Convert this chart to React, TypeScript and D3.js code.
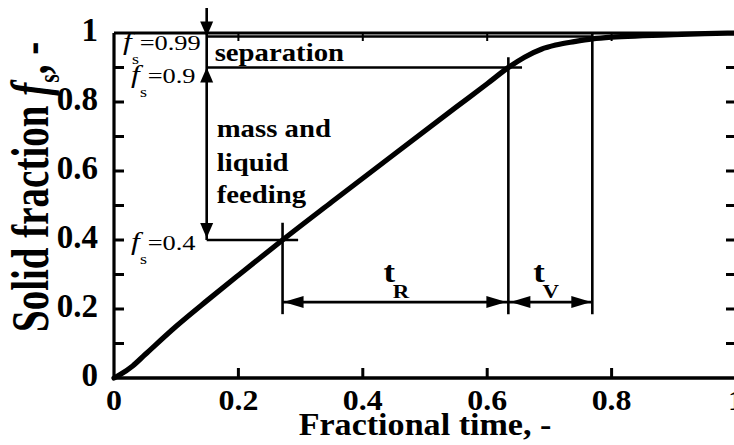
import React from "react";
import * as d3 from "d3";

// Solidification curve: fractional time vs solid fraction
const timeFrac = [0, 0.01, 0.03, 0.05, 0.1, 0.15, 0.2, 0.271, 0.35, 0.45, 0.55, 0.6, 0.634, 0.66, 0.687, 0.71, 0.74, 0.769, 0.8, 0.85, 0.9, 0.95, 1.0];
const solidFrac = [0, 0.01, 0.035, 0.068, 0.15, 0.225, 0.298, 0.4, 0.51, 0.648, 0.785, 0.853, 0.9, 0.93, 0.953, 0.965, 0.975, 0.983, 0.988, 0.992, 0.995, 0.998, 1.0];

// Characteristic solid fractions and the times they are reached
const markFs = [0.4, 0.9, 0.99];
const markT = [0.271, 0.634, 0.769];
const markLabels = ["0.4", "0.9", "0.99"];

const xTicks = [0, 0.2, 0.4, 0.6, 0.8, 1];
const xTickLabels = ["0", "0.2", "0.4", "0.6", "0.8", "1"];
const yTicks = [0, 0.2, 0.4, 0.6, 0.8, 1];
const yTickLabels = ["0", "0.2", "0.4", "0.6", "0.8", "1"];
const yMinorTicks = [0.1, 0.2, 0.3, 0.4, 0.5, 0.6, 0.7, 0.8, 0.9];

const W = 734;
const H = 445;
const FONT = "'Liberation Serif', 'Times New Roman', serif";

const x = d3.scaleLinear().domain([0, 1]).range([114, 736]);
const y = d3.scaleLinear().domain([0, 1]).range([378, 33]);

// Stage-marker geometry in data units
const arrowT = 0.149; // vertical annotation column
const hLineEnd = [0.296, 0.656, 0.769];
const vLineTop = [0.45, 0.93, 1.0];
const vLineBottom = 0.185;
const spanFs = 0.22; // level of the t_R / t_V arrows

function Stretch({ x: tx, y: ty, sx = 1.15, children }: { x: number; y: number; sx?: number; children: React.ReactNode }) {
  return <g transform={`translate(${tx},${ty}) scale(${sx},1)`}>{children}</g>;
}

function Head({ x0, y0, dir, len = 17, half = 6.5 }: { x0: number; y0: number; dir: "up" | "down" | "left" | "right"; len?: number; half?: number }) {
  let pts: [number, number][];
  if (dir === "down") pts = [[x0, y0], [x0 - half, y0 - len], [x0 + half, y0 - len]];
  else if (dir === "up") pts = [[x0, y0], [x0 - half, y0 + len], [x0 + half, y0 + len]];
  else if (dir === "left") pts = [[x0, y0], [x0 + len, y0 - half], [x0 + len, y0 + half]];
  else pts = [[x0, y0], [x0 - len, y0 - half], [x0 - len, y0 + half]];
  return <polygon points={pts.map((p) => p.join(",")).join(" ")} fill="#000" />;
}

export default function App() {
  const data = timeFrac.map((t, i) => [t, solidFrac[i]] as [number, number]);
  const line = d3
    .line<[number, number]>()
    .x((d) => x(d[0]))
    .y((d) => y(d[1]))
    .curve(d3.curveMonotoneX);

  const xa = x(arrowT);
  const ySpan = y(spanFs);
  const lw = 2.6;

  return (
    <svg width={W} height={H} style={{ position: "absolute", left: 0, top: 0, background: "#fff" }} fontFamily={FONT}>
      {/* frame */}
      <line x1={x(0)} x2={x(0)} y1={y(0)} y2={y(1)} stroke="#000" strokeWidth={3.2} />
      <line x1={x(0)} x2={x(1)} y1={y(0)} y2={y(0)} stroke="#000" strokeWidth={3.6} />
      <line x1={x(0)} x2={x(1)} y1={y(1)} y2={y(1)} stroke="#000" strokeWidth={3} />
      <line x1={x(1)} x2={x(1)} y1={y(0)} y2={y(1)} stroke="#000" strokeWidth={3} />

      {/* inward ticks */}
      {yMinorTicks.map((v) => (
        <g key={"yt" + v}>
          <line x1={x(0)} x2={x(0) + 10} y1={y(v)} y2={y(v)} stroke="#000" strokeWidth={3} />
          <line x1={x(1)} x2={x(1) - 10} y1={y(v)} y2={y(v)} stroke="#000" strokeWidth={3} />
        </g>
      ))}
      {xTicks.slice(1, -1).map((v) => (
        <g key={"xt" + v}>
          <line x1={x(v)} x2={x(v)} y1={y(0)} y2={y(0) - 10} stroke="#000" strokeWidth={3} />
          <line x1={x(v)} x2={x(v)} y1={y(1)} y2={y(1) + 8} stroke="#000" strokeWidth={2} />
        </g>
      ))}

      {/* tick labels */}
      {yTicks.map((v, i) => (
        <text key={"yl" + v} x={98} y={y(v) + 8} textAnchor="end" fontSize={33} fontWeight="bold">
          {yTickLabels[i]}
        </text>
      ))}
      {xTicks.map((v, i) => (
        <Stretch key={"xl" + v} x={x(v)} y={410} sx={1.1}>
          <text textAnchor="middle" fontSize={29} fontWeight="bold">
            {xTickLabels[i]}
          </text>
        </Stretch>
      ))}

      {/* axis titles */}
      <Stretch x={425} y={435} sx={1.1}>
        <text textAnchor="middle" fontSize={31} fontWeight="bold">
          Fractional time, -
        </text>
      </Stretch>
      <g transform={`translate(48,332) scale(1.35,1) rotate(-90)`}>
        <text fontSize={39} fontWeight="bold">
          Solid fraction <tspan fontStyle="italic">f</tspan>
          <tspan fontSize={22} dy={8}>s</tspan>
          <tspan dy={-8}>, -</tspan>
        </text>
      </g>

      {/* solid fraction curve */}
      <path d={line(data) ?? ""} fill="none" stroke="#000" strokeWidth={5.2} strokeLinejoin="round" strokeLinecap="round" />

      {/* horizontal marker lines */}
      {markFs.map((f, i) => (
        <line key={"h" + f} x1={xa} x2={x(hLineEnd[i])} y1={y(f)} y2={y(f)} stroke="#000" strokeWidth={lw} />
      ))}
      {/* vertical marker lines */}
      {markT.map((t, i) => (
        <line key={"v" + t} x1={x(t)} x2={x(t)} y1={y(vLineTop[i])} y2={y(vLineBottom)} stroke="#000" strokeWidth={lw} />
      ))}

      {/* vertical annotation column */}
      <line x1={xa} x2={xa} y1={8} y2={y(markFs[0])} stroke="#000" strokeWidth={lw} />
      <Head x0={xa} y0={y(markFs[2])} dir="down" len={15} />
      <Head x0={xa} y0={y(markFs[1])} dir="up" len={15} />
      <Head x0={xa} y0={y(markFs[0]) - 2} dir="down" len={15} />

      {/* t_R and t_V spans */}
      <line x1={x(markT[0])} x2={x(markT[1])} y1={ySpan} y2={ySpan} stroke="#000" strokeWidth={lw} />
      <line x1={x(markT[1])} x2={x(markT[2])} y1={ySpan} y2={ySpan} stroke="#000" strokeWidth={lw} />
      <Head x0={x(markT[0]) + 1} y0={ySpan} dir="left" len={20} half={6} />
      <Head x0={x(markT[1]) - 2} y0={ySpan} dir="right" len={20} half={6} />
      <Head x0={x(markT[1]) + 2} y0={ySpan} dir="left" len={20} half={6} />
      <Head x0={x(markT[2]) - 1} y0={ySpan} dir="right" len={20} half={6} />

      <Stretch x={(x(markT[0]) + x(markT[1])) / 2 - 12} y={ySpan - 20} sx={1.2}>
        <text fontSize={29} fontWeight="bold">
          t
          <tspan fontSize={19} dx={-2} dy={16}>R</tspan>
        </text>
      </Stretch>
      <Stretch x={(x(markT[1]) + x(markT[2])) / 2 - 17} y={ySpan - 20} sx={1.2}>
        <text fontSize={29} fontWeight="bold">
          t
          <tspan fontSize={19} dx={-2} dy={16}>V</tspan>
        </text>
      </Stretch>

      {/* f_s labels at the left of each marker line */}
      {markFs.map((f, i) => {
        const eqX = i === 2 ? xa - 67 : xa - 59;
        const base = y(f) + (i === 0 ? 10 : i === 1 ? 15.5 : 13.5);
        return (
          <Stretch key={"fl" + f} x={eqX} y={base} sx={1.2}>
            <text fontSize={22}>
              <tspan x={-14} fontStyle="italic" fontSize={26}>f</tspan>
              <tspan x={-6.5} fontSize={15} dy={14}>s</tspan>
              <tspan x={0} dy={-14}>={markLabels[i]}</tspan>
            </text>
          </Stretch>
        );
      })}

      {/* stage labels */}
      <Stretch x={xa + 8} y={(y(markFs[2]) + y(markFs[1])) / 2 + 9}>
        <text fontSize={25} fontWeight="bold">separation</text>
      </Stretch>
      <Stretch x={xa + 10} y={137}>
        <text fontSize={25} fontWeight="bold">mass and</text>
      </Stretch>
      <Stretch x={xa + 10} y={171}>
        <text fontSize={25} fontWeight="bold">liquid</text>
      </Stretch>
      <Stretch x={xa + 10} y={203}>
        <text fontSize={25} fontWeight="bold">feeding</text>
      </Stretch>
    </svg>
  );
}
